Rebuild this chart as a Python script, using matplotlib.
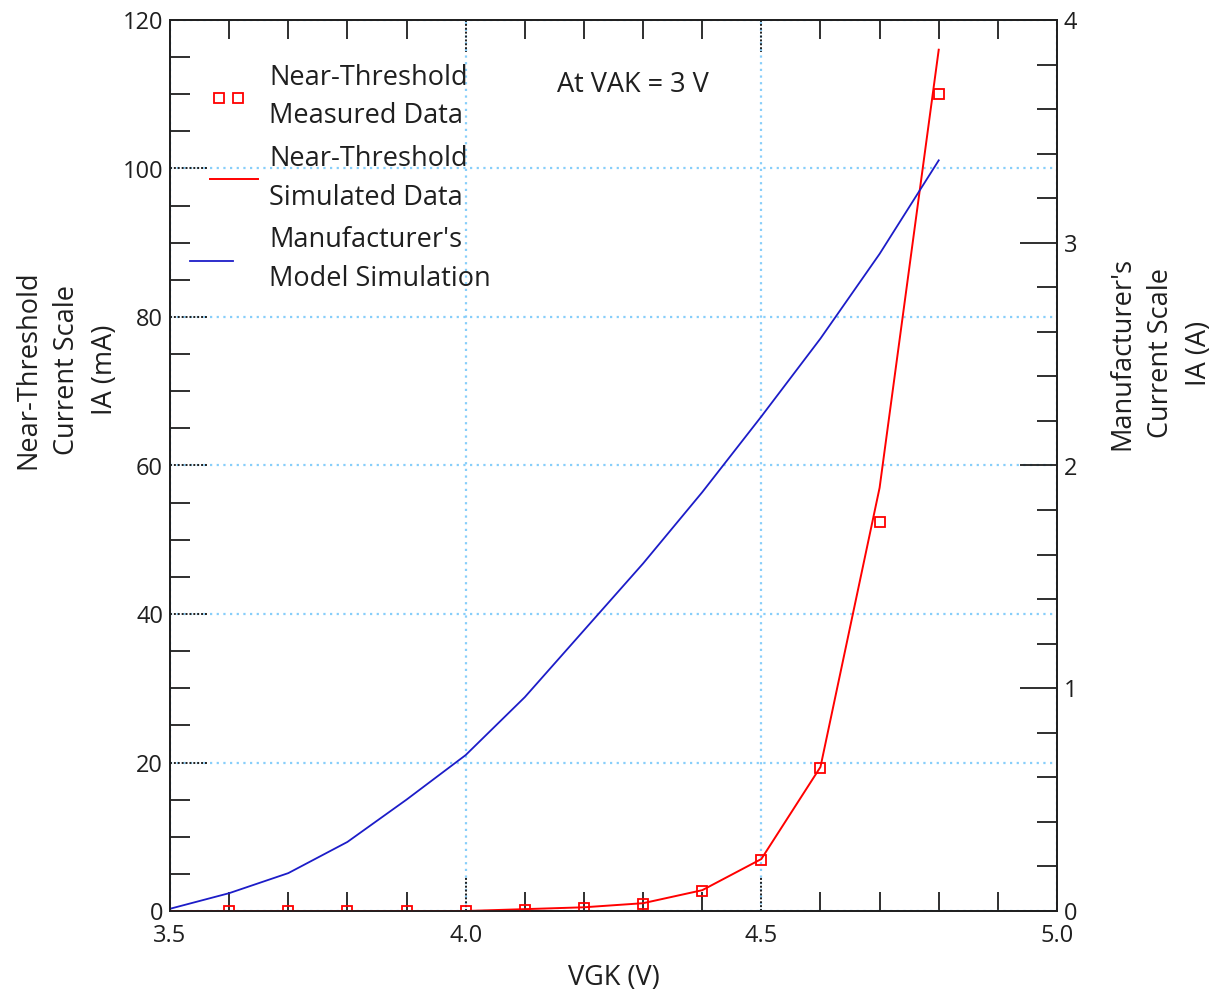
import matplotlib.pyplot as plt
from matplotlib.lines import Line2D
from matplotlib.legend_handler import HandlerLine2D
from matplotlib.ticker import MultipleLocator, FormatStrFormatter
from matplotlib.transforms import blended_transform_factory

plt.rcParams["font.family"] = ["Open Sans", "DejaVu Sans"]

INK = "#1f1f1f"
RED = "#ff0000"
BLUE = "#1c1cc8"
GRID = "#87cefa"

# gate-cathode sweep, measured points (mA)
VGK_MEAS = [3.6, 3.7, 3.8, 3.9, 4.0, 4.1, 4.2, 4.3, 4.4, 4.5, 4.6, 4.7, 4.8]
IA_MEAS_MA = [0.0, 0.0, 0.0, 0.0, 0.0, 0.2, 0.45, 0.95, 2.7, 6.9, 19.2, 52.4, 110.0]

# near-threshold simulation (mA) and manufacturer's model (A)
VGK_SIM = [3.5, 3.6, 3.7, 3.8, 3.9, 4.0, 4.1, 4.2, 4.3, 4.4, 4.5, 4.6, 4.7, 4.8]
IA_SIM_MA = [0.0, 0.0, 0.0, 0.0, 0.0, 0.0, 0.25, 0.5, 1.05, 2.8, 7.0, 19.4, 57.0, 116.0]
IA_MFR_A = [0.01, 0.08, 0.17, 0.31, 0.50, 0.70, 0.96, 1.26, 1.56, 1.88, 2.22, 2.57, 2.95, 3.37]

LABEL_MEAS = "Near-Threshold\nMeasured Data"
LABEL_SIM = "Near-Threshold\nSimulated Data"
LABEL_MFR = "Manufacturer's\nModel Simulation"

FS_TICK = 17
FS = 19.5


class OffsetHandler(HandlerLine2D):
    """Line handler that can slide left and shorten inside its legend slot."""

    def __init__(self, shift=0.0, trim=0.0, **kw):
        super().__init__(**kw)
        self.shift = shift
        self.trim = trim

    def create_artists(self, legend, orig_handle, xdescent, ydescent,
                       width, height, fontsize, trans):
        return super().create_artists(legend, orig_handle,
                                      xdescent + self.shift, ydescent,
                                      width - self.trim, height, fontsize, trans)


W, H = 1217, 996
fig = plt.figure(figsize=(W / 100, H / 100), dpi=100)
ax = fig.add_axes([170 / W, 1 - 911 / H, 887 / W, 891 / H])
ax2 = ax.twinx()

ax.set_xlim(3.5, 5.0)
ax.set_ylim(0, 120)
ax2.set_ylim(0, 4)

ax.xaxis.set_major_locator(MultipleLocator(0.5))
ax.xaxis.set_minor_locator(MultipleLocator(0.1))
ax.xaxis.set_major_formatter(FormatStrFormatter("%.1f"))
ax.yaxis.set_major_locator(MultipleLocator(20))
ax.yaxis.set_minor_locator(MultipleLocator(5))
ax2.yaxis.set_major_locator(MultipleLocator(1))
ax2.yaxis.set_minor_locator(MultipleLocator(0.2))

# minor ticks solid and inward; major ticks on left/bottom/top are drawn dotted below
ax.tick_params(axis="x", which="both", direction="in", top=True, bottom=True,
               color=INK, labelcolor=INK)
ax.tick_params(axis="x", which="minor", length=14, width=1.3)
ax.tick_params(axis="x", which="major", length=0, pad=9, labelsize=FS_TICK)
ax.tick_params(axis="y", which="both", direction="in", color=INK, labelcolor=INK)
ax.tick_params(axis="y", which="minor", length=14.5, width=1.3)
ax.tick_params(axis="y", which="major", length=0, pad=5, labelsize=FS_TICK)
ax2.tick_params(axis="y", which="both", direction="in", color=INK, labelcolor=INK)
ax2.tick_params(axis="y", which="major", length=26.5, width=1.3, pad=5,
                labelsize=FS_TICK)
ax2.tick_params(axis="y", which="minor", length=14.5, width=1.3)

for a in (ax, ax2):
    for sp in a.spines.values():
        sp.set_linewidth(1.3)
        sp.set_color(INK)

ax.grid(True, which="major", color=GRID, linestyle=(0, (1, 2)), linewidth=1.6)

# dotted black major tick marks
ty = blended_transform_factory(ax.transAxes, ax.transData)
tx = blended_transform_factory(ax.transData, ax.transAxes)
for v in ax.get_yticks():
    if 0 < v < 120:
        ax.plot([0, 0.042], [v, v], transform=ty, color=INK, lw=1.4,
                ls=(0, (1, 1)), zorder=3, clip_on=False)
for v in ax.get_xticks():
    if 3.5 < v < 5.0:
        for y0, y1 in ((0, 0.039), (1, 1 - 0.036)):
            ax.plot([v, v], [y0, y1], transform=tx, color=INK, lw=1.4,
                    ls=(0, (1, 1)), zorder=3, clip_on=False)

ax.plot(VGK_SIM, IA_SIM_MA, color=RED, lw=1.4, zorder=4)
ax.plot(VGK_MEAS, IA_MEAS_MA, ls="none", marker="s", ms=7.5, mfc="none",
        mec=RED, mew=1.3, zorder=5)
ax2.plot(VGK_SIM, IA_MFR_A, color=BLUE, lw=1.3)

meas_handle = Line2D([], [], ls="none", marker="s", ms=7.5, mfc="none",
                     mec=RED, mew=1.3)
sim_handle = Line2D([], [], color=RED, lw=1.4)
mfr_handle = Line2D([], [], color=BLUE, lw=1.3)
leg = ax2.legend([meas_handle, sim_handle, mfr_handle],
                 [LABEL_MEAS, LABEL_SIM, LABEL_MFR], loc="upper left",
                 bbox_to_anchor=(0.040, 0.951), frameon=False, fontsize=FS,
                 numpoints=2, handlelength=1.8, handletextpad=0.56,
                 labelspacing=0.55, borderaxespad=0, borderpad=0,
                 handler_map={
                     meas_handle: OffsetHandler(shift=-2, trim=6,
                                                marker_pad=0.4, numpoints=2),
                     sim_handle: OffsetHandler(shift=-3, marker_pad=0),
                     mfr_handle: OffsetHandler(shift=11, trim=4, marker_pad=0),
                 })
for t in leg.get_texts():
    t.set_linespacing(1.5)
    t.set_color(INK)

ax.text(0.436, 0.927, "At VAK = 3 V", transform=ax.transAxes, fontsize=FS,
        color=INK, ha="left", va="center")

ax.set_xlabel("VGK (V)", fontsize=FS, color=INK, labelpad=12)
fig.text(67 / W, 1 - 370 / H, "Near-Threshold\nCurrent Scale\nIA (mA)",
         rotation=90, ha="center", va="center", multialignment="center",
         fontsize=FS, color=INK, linespacing=1.5)
fig.text(1161 / W, 1 - 353 / H, "Manufacturer's\nCurrent Scale\nIA (A)",
         rotation=90, ha="center", va="center", multialignment="center",
         fontsize=FS, color=INK, linespacing=1.5)

fig.savefig("out.png", dpi=100)
